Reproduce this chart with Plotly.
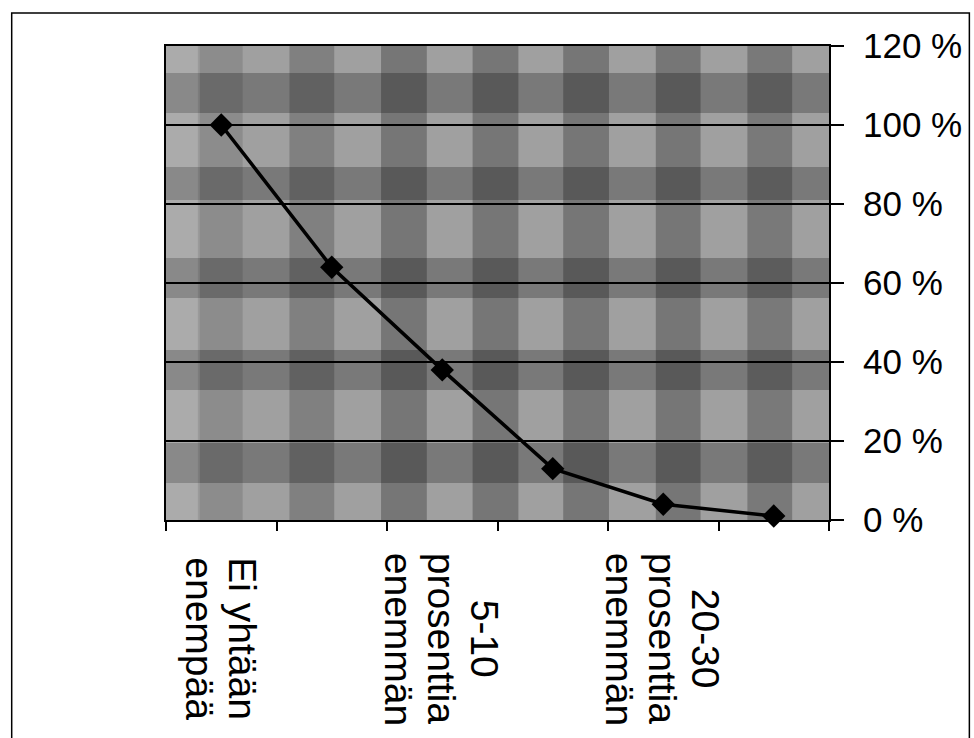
import plotly.graph_objects as go

# ---- data ----
categories = [
    "Ei yhtään enempää",
    "1-5 prosenttia enemmän",
    "5-10 prosenttia enemmän",
    "10-20 prosenttia enemmän",
    "20-30 prosenttia enemmän",
    "Yli 30 prosenttia enemmän",
]
values = [100, 64, 38, 13, 4, 1]
tick_labels = [
    ["Ei yhtään", "enempää"],
    [],
    ["5-10", "prosenttia", "enemmän"],
    [],
    ["20-30", "prosenttia", "enemmän"],
    [],
]
y_ticks = [0, 20, 40, 60, 80, 100, 120]

# ---- layout geometry (pixels) ----
W, H = 974, 738
PL, PR, PT, PB = 166, 832, 46, 520
LINE_GAP = 43  # spacing between rotated label lines
LABEL_MID = 639  # vertical centre of the rotated category labels


def px(x):
    return (x - PL) / (PR - PL)


def py(y):
    return (PB - y) / (PB - PT)


shapes = []
# plaid background: vertical stripes
v_stripes = [(198, 243, 0.12), (290, 335, 0.2), (382, 428, 0.26), (474, 520, 0.26),
             (565, 611, 0.26), (658, 703, 0.26), (750, 795, 0.24)]
for x0, x1, op in v_stripes:
    shapes.append(dict(type="rect", xref="paper", yref="paper", x0=px(x0), x1=px(x1),
                       y0=0, y1=1, fillcolor=f"rgba(0,0,0,{op})", line_width=0, layer="below"))
# horizontal bands
h_bands = [(73, 113), (167, 200), (258, 298), (350, 390), (443, 483)]
for y0, y1 in h_bands:
    shapes.append(dict(type="rect", xref="paper", yref="paper", x0=0, x1=1,
                       y0=py(y1), y1=py(y0), fillcolor="rgba(0,0,0,0.24)", line_width=0, layer="below"))
# light speckled left column
shapes.append(dict(type="rect", xref="paper", yref="paper", x0=0, x1=px(200), y0=0, y1=1,
                   fillcolor="rgba(255,255,255,0.12)", line_width=0, layer="below"))
# outer page frame
shapes.append(dict(type="rect", xref="paper", yref="paper", x0=px(11), x1=px(973),
                   y0=py(760), y1=py(13), line=dict(color="black", width=1.5),
                   fillcolor="rgba(0,0,0,0)", layer="below"))

fig = go.Figure()
fig.add_trace(go.Scatter(
    x=categories, y=values, mode="lines+markers",
    line=dict(color="black", width=3.5),
    marker=dict(symbol="diamond", size=18, color="black"),
    showlegend=False, cliponaxis=False,
))

annotations = []
for cat, lines in zip(categories, tick_labels):
    n = len(lines)
    for i, ln in enumerate(lines):
        offset = ((n - 1) / 2 - i) * LINE_GAP
        annotations.append(dict(
            x=cat, xref="x", y=py(LABEL_MID), yref="paper", text=ln, showarrow=False,
            textangle=90, xanchor="center", yanchor="middle", xshift=offset,
            font=dict(family="Liberation Sans, Arial", size=39, color="black"),
        ))

fig.update_layout(
    width=W, height=H,
    margin=dict(l=PL, r=W - PR, t=PT, b=H - PB, pad=0),
    paper_bgcolor="white",
    plot_bgcolor="#a0a0a0",
    shapes=shapes,
    annotations=annotations,
    font=dict(family="Liberation Sans, Arial", color="black"),
)
fig.update_xaxes(
    type="category", categoryorder="array", categoryarray=categories,
    range=[-0.5, len(categories) - 0.5],
    showticklabels=False, tickson="boundaries", ticks="outside", ticklen=9,
    tickwidth=1.5, tickcolor="black", showgrid=False,
    showline=True, linecolor="black", linewidth=2, mirror=True,
)
fig.update_yaxes(
    side="right", range=[0, 120], tickmode="array", tickvals=y_ticks,
    ticktext=[f"{v} %" for v in y_ticks],
    ticks="outside", ticklen=13, tickwidth=1.5, tickcolor="black",
    ticklabelstandoff=12,
    tickfont=dict(family="Liberation Sans, Arial", size=35, color="black"),
    showgrid=True, gridcolor="black", gridwidth=1.8,
    showline=True, linecolor="black", linewidth=2, mirror=True,
    zeroline=False,
)

fig.write_html("out.html")
